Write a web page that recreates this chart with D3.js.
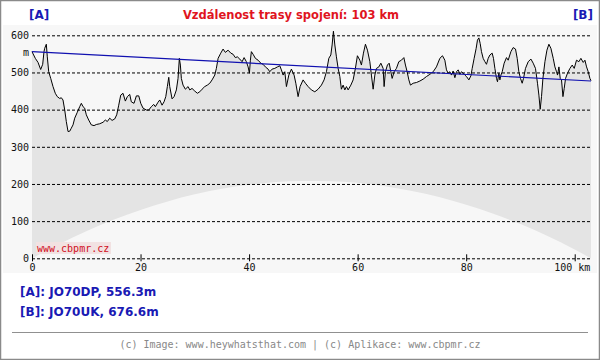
<!DOCTYPE html>
<html><head><meta charset="utf-8">
<script src="https://cdn.jsdelivr.net/npm/d3@7"></script>
<style>
html,body{margin:0;padding:0;background:#fff;}
svg{display:block;}
</style></head>
<body>
<svg id="c" width="600" height="360"></svg>
<script>
// ---- data ----
const title = "Vzdálenost trasy spojení: 103 km";
const labelA = "[A]: JO70DP, 556.3m";
const labelB = "[B]: JO70UK, 676.6m";
const footer = "(c) Image: www.heywhatsthat.com | (c) Aplikace: www.cbpmr.cz";
const yTicks = [0, 100, 200, 300, 400, 500, 600];
const xTicks = [0, 20, 40, 60, 80, 100];
const totalKm = 103;
// terrain profile (km, m)
const dist = [0,0.61,1.11,1.6,1.97,2.21,2.34,2.64,2.82,3.08,3.45,3.87,4.29,4.66,5.11,5.4,5.71,6.03,6.32,6.64,6.95,7.24,7.56,7.87,8.35,8.79,9.09,9.4,9.71,10.01,10.45,10.93,11.43,11.85,12.48,13.09,13.51,13.88,14.32,14.75,15.24,15.61,15.98,16.35,16.77,17.2,17.57,18.01,18.3,18.8,19.23,19.67,20.04,20.46,21.07,21.51,21.99,22.43,22.73,23.23,23.54,23.96,24.33,24.65,24.94,25.2,25.38,25.81,26.18,26.6,26.91,27.15,27.34,27.52,27.83,28.26,28.76,29.07,29.49,29.99,30.47,30.91,31.34,31.83,32.31,32.76,33.18,33.68,33.97,34.29,34.78,35.21,35.63,36.13,36.63,37.05,37.47,37.84,38.29,38.71,39.08,39.5,39.82,40.06,40.24,40.42,40.74,41.16,41.66,42.16,42.58,43,43.5,43.81,44.24,44.74,45.22,45.66,45.95,46.27,46.58,46.88,47.32,47.8,48.29,48.61,49.03,49.4,49.95,50.38,50.88,51.48,52.11,52.72,53.33,53.82,54.25,54.69,55.06,55.3,55.54,55.8,56.09,56.41,56.72,57.01,57.33,57.64,57.94,58.25,58.75,59.17,59.59,59.96,60.41,60.7,61.07,61.44,61.81,62.25,62.54,62.86,63.17,63.47,63.91,64.28,64.7,64.88,65.12,65.49,65.81,66.12,66.36,66.73,67.15,67.59,68.07,68.52,68.81,69.12,69.44,69.73,70.23,70.84,71.47,72.07,72.68,73.31,73.92,74.52,75.15,75.63,76.07,76.37,76.68,77,77.29,77.6,77.92,78.21,78.53,78.84,79.13,79.45,79.76,80.06,80.5,80.87,81.11,81.47,81.84,82.08,82.34,82.58,82.82,83.13,83.45,83.74,84.06,84.37,84.79,85.03,85.29,85.59,85.77,86.03,86.21,86.4,86.64,87,87.43,87.74,88.24,88.66,89.09,89.4,89.71,90.01,90.32,90.56,90.93,91.43,91.93,92.35,92.77,93.14,93.4,93.64,93.88,94.14,94.51,94.88,95.24,95.61,96.04,96.35,96.65,96.83,97.09,97.33,97.57,97.83,98.06,98.31,98.67,99.12,99.54,99.91,100.33,100.77,101.14,101.57,101.88,102.18,102.49,102.8,103];
const elev = [556,538,527,508,522,556,565,576,542,502,484,462,444,435,430,432,426,399,368,341,342,350,359,377,393,408,417,408,404,386,372,359,357,360,362,366,372,368,377,371,375,386,412,439,444,423,435,441,421,417,437,437,417,404,399,399,408,414,408,420,426,412,421,435,462,487,462,429,435,453,484,538,520,484,466,455,462,453,457,450,444,448,455,462,466,471,480,493,511,538,552,563,554,560,552,549,540,542,536,529,540,529,515,498,533,556,549,538,533,525,522,515,509,502,509,511,515,518,507,493,502,462,493,509,493,471,435,462,480,471,462,453,448,455,466,480,502,538,547,574,611,574,542,511,489,455,466,453,462,453,466,480,511,545,533,520,552,576,560,529,493,455,493,511,515,525,511,462,502,520,525,502,484,502,511,529,533,540,520,502,480,466,471,473,477,482,489,495,502,515,538,545,533,507,498,502,493,504,486,502,507,495,502,498,493,489,480,491,511,538,565,587,593,578,556,538,529,522,538,547,552,538,511,484,475,498,480,493,502,525,540,533,556,567,563,538,502,484,471,484,511,529,536,525,511,471,439,401,435,484,529,560,576,565,538,515,502,493,515,484,480,435,457,484,498,511,520,511,533,529,538,527,533,515,502,484,478];
// line of sight (km, m)
const losDist = [0, 103];
const losElev = [556, 477];
// earth bulge (km, m)
const bulgeDist = [0,5,10,15,20,25,30,35,40,45,50,55,60,65,70,75,80,85,90,95,100,103];
const bulgeElev = [0,38,73,104,130,153,172,187,198,205,208,207,203,194,181,165,144,120,92,60,24,0];

// ---- drawing ----
const svg = d3.select("#c");
const x = d3.scaleLinear().domain([0, totalKm]).range([32, 591]);
const y = d3.scaleLinear().domain([0, 600]).range([258.3, 35.3]);

// page border
svg.append("rect").attr("x",0.5).attr("y",0.5).attr("width",599).attr("height",359)
  .attr("fill","#fff").attr("stroke","#8a8a8a").attr("stroke-width",1.5);

// chart image background
svg.append("rect").attr("x",3).attr("y",25).attr("width",594).attr("height",248).attr("fill","#f7f7f7");

const mono = "'DejaVu Sans Mono', monospace";
const sans = "'DejaVu Sans', Verdana, sans-serif";

// title and end markers
svg.append("text").attr("x",291).attr("y",19).attr("text-anchor","middle")
  .attr("font-family",sans).attr("font-weight","bold").attr("font-size",11.5)
  .attr("fill","#e0141e").text(title);
svg.append("text").attr("x",29).attr("y",19).attr("font-family",sans).attr("font-weight","bold")
  .attr("font-size",12).attr("fill","#1a1ab4").text("[A]");
svg.append("text").attr("x",593).attr("y",19).attr("text-anchor","end").attr("font-family",sans).attr("font-weight","bold")
  .attr("font-size",12).attr("fill","#1a1ab4").text("[B]");

const terrain = dist.map((d,i)=>({d, e: elev[i]}));
const bulge = bulgeDist.map((d,i)=>({d, e: bulgeElev[i]}));
const los = losDist.map((d,i)=>({d, e: losElev[i]}));

// terrain fill
svg.append("path").datum(terrain)
  .attr("d", d3.area().x(p=>x(p.d)).y0(y(0)).y1(p=>y(p.e)))
  .attr("fill","#e4e4e4");
// earth bulge (lighter)
svg.append("path").datum(bulge)
  .attr("d", d3.area().x(p=>x(p.d)).y0(y(0)).y1(p=>y(p.e)).curve(d3.curveMonotoneX))
  .attr("fill","#f7f7f7");

// y axis with dashed gridlines
const ya = svg.append("g").attr("transform","translate(32,0)")
  .call(d3.axisLeft(y).tickValues(yTicks).tickSizeInner(-(591-32)).tickSizeOuter(0).tickPadding(3));
ya.select(".domain").remove();
ya.selectAll("line").attr("stroke","#000").attr("stroke-dasharray","3,2");
ya.selectAll("text").attr("font-family",mono).attr("font-size",10).attr("fill","#111");
svg.append("text").attr("x",29).attr("y",y(553)).attr("dy","0.32em").attr("text-anchor","end")
  .attr("font-family",mono).attr("font-size",10).attr("fill","#111").text("m");

// x axis
const xa = svg.append("g").attr("transform",`translate(0,${y(0)})`)
  .call(d3.axisBottom(x).tickValues(xTicks).tickSize(3).tickPadding(3)
    .tickFormat(d => d === 100 ? "100 km" : String(d)));
xa.select(".domain").remove();
xa.selectAll("line").attr("y1",-4).attr("stroke","#000");
xa.selectAll("text").attr("font-family",mono).attr("font-size",10).attr("fill","#111");
xa.selectAll("text").filter(d=>d===100).attr("text-anchor","start").attr("dx",-21);

// terrain line
svg.append("path").datum(terrain)
  .attr("d", d3.line().x(p=>x(p.d)).y(p=>y(p.e)))
  .attr("fill","none").attr("stroke","#000").attr("stroke-width",1);
// line of sight
svg.append("path").datum(los)
  .attr("d", d3.line().x(p=>x(p.d)).y(p=>y(p.e)))
  .attr("fill","none").attr("stroke","#1010b0").attr("stroke-width",1.2);

// watermark
svg.append("rect").attr("x",36).attr("y",242).attr("width",75).attr("height",12).attr("fill","#f2e2e2");
svg.append("text").attr("x",37).attr("y",251.5).attr("font-family",mono).attr("font-size",10)
  .attr("fill","#d0101c").text("www.cbpmr.cz");

// info labels
svg.append("text").attr("x",20).attr("y",296).attr("font-family",sans).attr("font-weight","bold")
  .attr("font-size",12).attr("fill","#1a1ab4").text(labelA);
svg.append("text").attr("x",20).attr("y",316).attr("font-family",sans).attr("font-weight","bold")
  .attr("font-size",12).attr("fill","#1a1ab4").text(labelB);

// separator and footer
svg.append("line").attr("x1",12).attr("x2",588).attr("y1",332.5).attr("y2",332.5)
  .attr("stroke","#909090").attr("stroke-width",1);
svg.append("text").attr("x",300).attr("y",348).attr("text-anchor","middle")
  .attr("font-family",mono).attr("font-size",10).attr("fill","#888").text(footer);
</script>
</body></html>
